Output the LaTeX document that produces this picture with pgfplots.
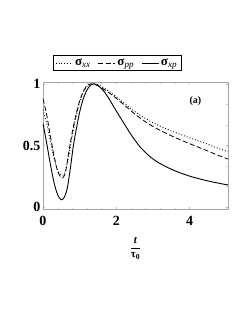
\documentclass[border=0pt]{standalone}
\usepackage{fontspec}
\setmainfont{Liberation Serif}
\usepackage{pgfplots}
\pgfplotsset{compat=1.18}
\begin{document}
\begin{tikzpicture}[x=1pt,y=1pt]
\useasboundingbox (-43,-108) rectangle (202,209);
\begin{axis}[
  at={(0,0)}, anchor=south west,
  scale only axis, width=185pt, height=127pt,
  xmin=0, xmax=5.05, ymin=-0.015, ymax=1.015,
  xtick={0,2,4}, ytick={0,0.5,1},
  yticklabels={0,0.5,1},
  minor x tick num=4, minor y tick num=2,
  axis line style={gray!70, line width=0.6pt},
  major tick style={gray!60, line width=0.4pt},
  minor tick style={gray!40, line width=0.3pt},
  major tick length=2pt, minor tick length=1.5pt,
  tick label style={font=\fontsize{14}{16}\selectfont\bfseries},
  /pgf/number format/assume math mode=true,
  xticklabel style={yshift=-4pt},
  yticklabel style={xshift=1pt},
  xlabel={$\displaystyle\frac{\textbf{\textit{t}}}{\textbf{τ}_{\mathbf{0}}}$},
  xlabel style={font=\fontsize{11}{12}\selectfont, yshift=-4pt},
  legend columns=3,
  legend style={at={(0.054,1.087)}, anchor=south west, draw=black, line width=0.5pt,
     font=\fontsize{13}{14}\selectfont, inner xsep=2pt, inner ysep=1.5pt,
     /tikz/every even column/.append style={column sep=5pt}},
  legend cell align=left,
  legend image code/.code={\draw[#1, line width=0.8pt] (0pt,0pt) -- (17pt,0pt);},
  clip=true,
]
\addplot[black, dotted, line width=0.9pt, smooth] coordinates {
(0,0.79) (0.1,0.68) (0.2,0.54) (0.3,0.40) (0.4,0.30) (0.5,0.26) (0.56,0.26) (0.62,0.30)
(0.7,0.41) (0.8,0.58) (0.9,0.73) (1.0,0.85) (1.1,0.93) (1.2,0.98) (1.3,0.998) (1.4,1.0)
(1.5,0.993) (1.6,0.978) (1.8,0.94) (2.0,0.895) (2.25,0.835) (2.5,0.777) (2.75,0.727)
(3.0,0.685) (3.25,0.65) (3.5,0.618) (3.75,0.59) (4.0,0.563) (4.25,0.537) (4.5,0.51)
(4.75,0.48) (5.05,0.45)};
\addlegendentry{\textbf{σ}\textsubscript{\textit{xx}}}
\addplot[black, dashed, dash pattern=on 5pt off 2.5pt, line width=0.8pt, smooth] coordinates {
(0,0.88) (0.1,0.75) (0.2,0.58) (0.3,0.42) (0.4,0.29) (0.5,0.24) (0.56,0.245) (0.62,0.29)
(0.7,0.44) (0.8,0.61) (0.9,0.75) (1.0,0.86) (1.1,0.94) (1.2,0.985) (1.3,1.0) (1.4,0.997)
(1.5,0.986) (1.6,0.968) (1.8,0.928) (2.0,0.883) (2.25,0.82) (2.5,0.757) (2.75,0.702)
(3.0,0.655) (3.25,0.615) (3.5,0.579) (3.75,0.546) (4.0,0.515) (4.25,0.485) (4.5,0.455)
(4.75,0.424) (5.05,0.39)};
\addlegendentry{\textbf{σ}\textsubscript{\textit{pp}}}
\addplot[black, solid, line width=0.9pt, smooth] coordinates {
(0,0.68) (0.1,0.52) (0.2,0.35) (0.3,0.20) (0.4,0.10) (0.5,0.06) (0.58,0.08) (0.66,0.15)
(0.74,0.30) (0.83,0.50) (0.92,0.65) (1.0,0.77) (1.1,0.88) (1.2,0.95) (1.3,0.99) (1.38,1.0)
(1.5,0.985) (1.6,0.96) (1.7,0.925) (1.8,0.88) (1.9,0.83) (2.0,0.78) (2.1,0.732) (2.2,0.684)
(2.3,0.636) (2.4,0.59) (2.5,0.547) (2.6,0.507) (2.7,0.472) (2.8,0.442) (2.9,0.415)
(3.0,0.391) (3.1,0.371) (3.2,0.353) (3.3,0.337) (3.4,0.322) (3.5,0.308) (3.6,0.295)
(3.7,0.283) (3.8,0.272) (3.9,0.262) (4.0,0.252) (4.1,0.243) (4.2,0.235) (4.3,0.227)
(4.4,0.22) (4.5,0.213) (4.6,0.206) (4.7,0.2) (4.8,0.194) (4.9,0.188) (5.0,0.183) (5.05,0.18)};
\addlegendentry{\textbf{σ}\textsubscript{\textit{xp}}}
\node[font=\fontsize{10}{11}\selectfont\bfseries] at (axis cs:4.16,0.86) {(a)};
\end{axis}
\end{tikzpicture}
\end{document}
